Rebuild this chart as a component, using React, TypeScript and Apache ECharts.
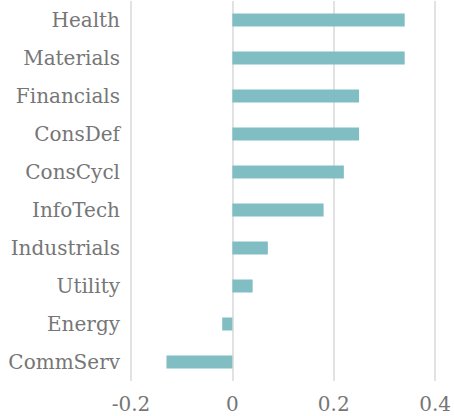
import React, { useEffect, useRef } from "react";
import * as echarts from "echarts";

const categories = ["CommServ", "Energy", "Utility", "Industrials", "InfoTech", "ConsCycl", "ConsDef", "Financials", "Materials", "Health"];
const values = [-0.13, -0.02, 0.04, 0.07, 0.18, 0.22, 0.25, 0.25, 0.34, 0.34];
const xTicks = [-0.2, 0, 0.2, 0.4];

export default function App() {
  const ref = useRef<HTMLDivElement>(null);
  useEffect(() => {
    const chart = echarts.init(ref.current!, null, { renderer: "svg" });
    chart.setOption({
      animation: false,
      grid: { left: 131, right: 17, top: 1, bottom: 35, containLabel: false },
      xAxis: {
        type: "value",
        min: xTicks[0],
        max: xTicks[xTicks.length - 1],
        interval: 0.2,
        axisLine: { show: false },
        axisTick: { show: false },
        splitLine: { show: true, lineStyle: { color: "#d9d9d9", width: 1.5 } },
        axisLabel: {
          color: "#767676",
          fontFamily: "DejaVu Serif",
          fontSize: 20,
          margin: 13,
          formatter: (v: number) => (Math.abs(v) < 1e-9 ? "0" : String(Math.round(v * 10) / 10)),
        },
      },
      yAxis: {
        type: "category",
        data: categories,
        axisLine: { show: false },
        axisTick: { show: false },
        splitLine: { show: false },
        axisLabel: {
          color: "#767676",
          fontFamily: "DejaVu Serif",
          fontSize: 20,
          margin: 11,
        },
      },
      series: [
        {
          type: "bar",
          data: values,
          barWidth: 13,
          itemStyle: { color: "#80bec4" },
        },
      ],
    });
    return () => chart.dispose();
  }, []);
  return <div ref={ref} style={{ width: 454, height: 416, position: "absolute", left: 0, top: 0 }} />;
}
